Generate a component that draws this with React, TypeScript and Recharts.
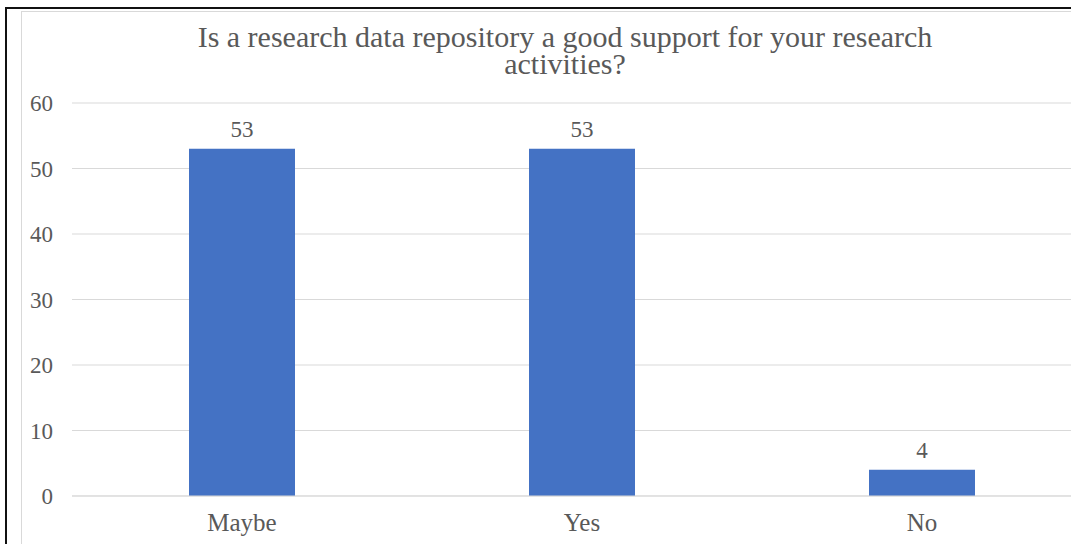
import { BarChart, Bar, XAxis, YAxis, CartesianGrid, LabelList } from "recharts";

const categories = ["Maybe", "Yes", "No"];
const responses = [53, 53, 4];
const yTicks = [0, 10, 20, 30, 40, 50, 60];
const titleLines = [
  "Is a research data repository a good support for your research",
  "activities?",
];

const data = categories.map((name, i) => ({ name, value: responses[i] }));

const TEXT = "#595959";
const FONT = "'Liberation Serif', 'Times New Roman', serif";

export default function App() {
  return (
    <div
      style={{
        position: "absolute",
        left: 0,
        top: 0,
        width: 1071,
        height: 544,
        overflow: "hidden",
        background: "#fff",
        fontFamily: FONT,
      }}
    >
      {/* outer dark frame and inner chart border */}
      <div style={{ position: "absolute", left: 5, top: 7, width: 2000, height: 2000, borderLeft: "2px solid #111", borderTop: "2px solid #111" }} />
      <div style={{ position: "absolute", left: 21, top: 11, width: 2000, height: 2000, borderLeft: "1px solid #d9d9d9", borderTop: "1px solid #d9d9d9" }} />

      <div
        style={{
          position: "absolute",
          left: 0,
          top: 23,
          width: 1130,
          textAlign: "center",
          color: TEXT,
          fontSize: 30,
          lineHeight: "27px",
        }}
      >
        {titleLines.map((t) => (
          <div key={t}>{t}</div>
        ))}
      </div>

      <div style={{ position: "absolute", left: 0, top: 0 }}>
        <BarChart
          width={1092}
          height={544}
          data={data}
          margin={{ top: 103, right: 0, left: 0, bottom: 18 }}
          barSize={106}
        >
          <CartesianGrid vertical={false} stroke="#d9d9d9" />
          <XAxis
            dataKey="name"
            axisLine={{ stroke: "#d9d9d9" }}
            tickLine={false}
            tickSize={0}
            tickMargin={17}
            height={30}
            tick={{ fill: TEXT, fontSize: 25, fontFamily: FONT }}
          />
          <YAxis
            domain={[0, 60]}
            ticks={yTicks}
            axisLine={false}
            tickLine={false}
            tickSize={0}
            tickMargin={19}
            width={72}
            tick={{ fill: TEXT, fontSize: 23, fontFamily: FONT }}
          />
          <Bar dataKey="value" fill="#4472C4" isAnimationActive={false}>
            <LabelList
              dataKey="value"
              position="top"
              offset={12}
              fill={TEXT}
              fontSize={23}
              fontFamily={FONT}
            />
          </Bar>
        </BarChart>
      </div>
    </div>
  );
}
